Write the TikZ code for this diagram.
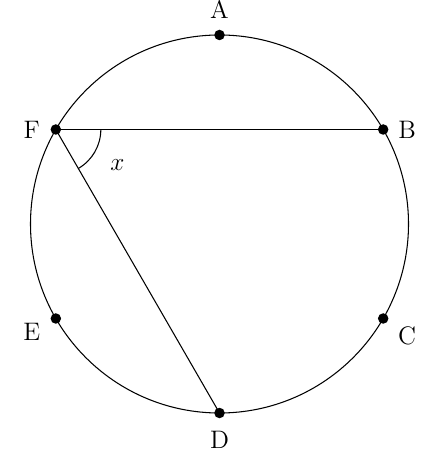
\documentclass[tikz,border=0pt]{standalone}
\usepackage{tikz}
\usetikzlibrary{calc}

\begin{document}
\begin{tikzpicture}[
      dot/.style ={circle,fill=black,inner sep=0pt,minimum size=2.1mm},
      lbl/.style ={font=\Large,inner sep=0.5pt},
      scale=1
      ]
    \useasboundingbox (-4.39,-4.54) rectangle (4.41,4.48);
    \draw[semithick] (0,0) circle [radius=3.78cm];
    % points on the circle, every 60 degrees
    \foreach \n/\a in {A/90,B/30,C/-30,D/-90,E/-150,F/150}
      \node[dot] (\n) at (\a:3.78cm) {};
    \node[lbl] (lA) at ($(A)+(0,0.52)$) {A};
    \node[lbl] (lB) at ($(B)+(0.48,0)$) {B};
    \node[lbl] (lC) at ($(C)+(0.48,-0.34)$) {C};
    \node[lbl] (lD) at ($(D)+(0,-0.54)$) {D};
    \node[lbl] (lE) at ($(E)+(-0.48,-0.26)$) {E};
    \node[lbl] (lF) at ($(F)+(-0.48,0)$) {F};
    \draw[semithick] (F.center) -- (B.center);
    \draw[semithick] (F.center) -- (D.center);
    \draw[semithick] ($(F)+(0.9,0)$) arc [start angle=0, end angle=-60, radius=0.9cm];
    \node[lbl] (x) at ($(F)+(-30:1.42)$) {$x$};
\end{tikzpicture}
\end{document}
